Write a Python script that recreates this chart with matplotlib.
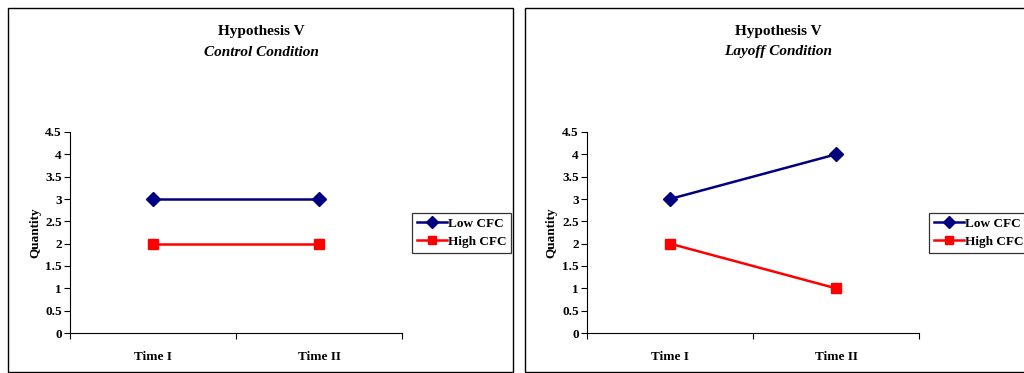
import matplotlib
matplotlib.use("Agg")
import matplotlib.pyplot as plt
from matplotlib.patches import Rectangle

# chart data
times = ["Time I", "Time II"]
conditions = ["Control Condition", "Layoff Condition"]
low_cfc = {"Control Condition": [3, 3], "Layoff Condition": [3, 4]}
high_cfc = {"Control Condition": [2, 2], "Layoff Condition": [2, 1]}
y_ticks = [0, 0.5, 1, 1.5, 2, 2.5, 3, 3.5, 4, 4.5]

W, H = 1024, 373
plt.rcParams['font.family'] = ['Liberation Serif', 'DejaVu Serif']
plt.rcParams['font.weight'] = 'bold'

fig = plt.figure(figsize=(W / 100, H / 100), dpi=100)
fig.patch.set_facecolor('white')


# px(x0, y0, w, h): convert pixel box (top-left origin) into figure fractions
def px(x0, y0, w, h):
    return [x0 / W, 1 - (y0 + h) / H, w / W, h / H]


# drawPanel(cond, x_off): one framed chart, x_off is its left pixel offset
def drawPanel(cond, x_off):
    frame = Rectangle(((x_off + 8) / W, 1.5 / H), 505 / W, 364 / H, fill=False,
                      lw=1.0, edgecolor='black', transform=fig.transFigure)
    fig.add_artist(frame)

    ax = fig.add_axes(px(x_off + 70, 132, 332, 201))
    xs = [0.5, 1.5]
    ax.plot(xs, low_cfc[cond], color='#000080', lw=1.8, marker='D', ms=7.5,
            label='Low CFC', clip_on=False)
    ax.plot(xs, high_cfc[cond], color='#ff0000', lw=1.8, marker='s', ms=7.5,
            label='High CFC', clip_on=False)
    ax.set_xlim(0, 2)
    ax.set_ylim(0, 4.5)
    ax.set_yticks(y_ticks)
    ax.set_yticklabels([f"{v:g}" for v in y_ticks])
    ax.set_xticks(xs)
    ax.set_xticklabels(times)
    ax.set_xticks([0, 1, 2], minor=True)
    ax.tick_params(axis='x', which='major', length=0, pad=13, labelsize=9.5)
    ax.tick_params(axis='x', which='minor', length=4, direction='out', width=0.8)
    ax.tick_params(axis='y', length=4, direction='out', width=0.8, labelsize=9.5, pad=2)
    for s in ['top', 'right']:
        ax.spines[s].set_visible(False)
    for s in ['left', 'bottom']:
        ax.spines[s].set_linewidth(0.8)
    ax.set_ylabel('Quantity', fontsize=9.5, fontweight='bold', labelpad=3)

    cx = (x_off + 261) / W
    fig.text(cx, 1 - 31 / H, 'Hypothesis V', ha='center', va='center',
             fontsize=11, fontweight='bold')
    fig.text(cx, 1 - 52 / H, cond, ha='center', va='center', fontsize=11,
             fontweight='bold', style='italic')

    leg = ax.legend(loc='upper left', bbox_to_anchor=((x_off + 412) / W, 1 - 213 / H),
                    bbox_transform=fig.transFigure, frameon=True, fancybox=False,
                    edgecolor='black', fontsize=9.5, handlelength=2.3,
                    borderpad=0.35, labelspacing=0.45, handletextpad=0.1,
                    borderaxespad=0, markerscale=0.8)
    leg.get_frame().set_linewidth(0.9)
    return ax


drawPanel(conditions[0], 0)
drawPanel(conditions[1], 517)

fig.savefig('out.png', dpi=100, facecolor='white')
